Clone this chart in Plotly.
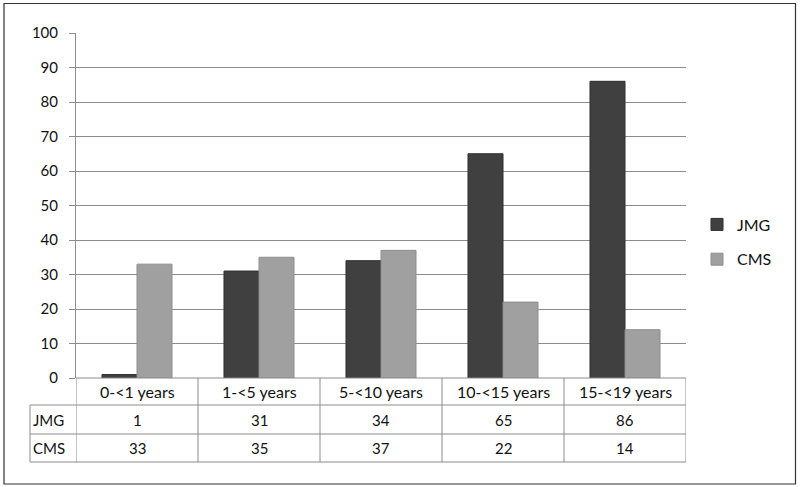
import plotly.graph_objects as go

categories = ["0-<1 years", "1-<5 years", "5-<10 years", "10-<15 years", "15-<19 years"]
jmg = [1, 31, 34, 65, 86]
cms = [33, 35, 37, 22, 14]
series_names = ["JMG", "CMS"]
y_ticks = [0, 10, 20, 30, 40, 50, 60, 70, 80, 90, 100]

W, H = 800, 487
FONT = "Lato"
FS = 15
LINE = "#8c8c8c"
TXT = "#111111"

# plot area in pixels
px_left, px_right, px_top, px_bottom = 76, 686, 33, 378
def px(xp):
    return xp / W
def py(yp):
    return 1 - yp / H

fig = go.Figure()
xs = list(range(len(categories)))
fig.add_trace(go.Bar(x=xs, y=jmg, name=series_names[0],
                     marker=dict(color="#404040", line=dict(width=1, color="#2e2e2e")),
                     legendgroup="a"))
fig.add_trace(go.Bar(x=xs, y=cms, name=series_names[1],
                     marker=dict(color="#a0a0a0", line=dict(width=1, color="#8e8e8e")),
                     legendgroup="b"))

shapes = []
annotations = []
# outer border
shapes.append(dict(type="rect", xref="paper", yref="paper", x0=px(4), x1=px(795.5), y0=py(484), y1=py(3.5),
                   line=dict(color="#333333", width=1.2)))

# table rows (pixel y)
row_cat = (378, 405)
row_jmg = (405, 434)
row_cms = (434, 462)
n = len(categories)
shapes.append(dict(type="line", xref="x", yref="paper", x0=-0.5, x1=n - 0.5, y0=py(row_cat[0]), y1=py(row_cat[0]),
                   line=dict(color=LINE, width=1)))
for yy in (row_jmg[0], row_cms[0], row_cms[1]):
    shapes.append(dict(type="line", xref="paper", yref="paper", x0=px(30), x1=px(px_right), y0=py(yy), y1=py(yy),
                       line=dict(color=LINE, width=1)))
for i in range(n + 1):
    shapes.append(dict(type="line", xref="x", yref="paper", x0=i - 0.5, x1=i - 0.5, y0=py(row_cat[0]), y1=py(row_cms[1]),
                       line=dict(color=LINE, width=1)))
shapes.append(dict(type="line", xref="paper", yref="paper", x0=px(30), x1=px(30), y0=py(row_jmg[0]), y1=py(row_cms[1]),
                   line=dict(color=LINE, width=1)))

def cell(x, xref, y_rng, text, xanchor="center", size=FS):
    annotations.append(dict(x=x, xref=xref, y=py((y_rng[0] + y_rng[1]) / 2), yref="paper", text=text,
                            showarrow=False, xanchor=xanchor, yanchor="middle",
                            font=dict(family=FONT, size=size, color=TXT)))

for i, c in enumerate(categories):
    cell(i, "x", row_cat, c, size=16)
    cell(i, "x", row_jmg, str(jmg[i]))
    cell(i, "x", row_cms, str(cms[i]))
cell(px(31), "paper", row_jmg, series_names[0], "left")
cell(px(31), "paper", row_cms, series_names[1], "left")

fig.update_layout(
    width=W, height=H,
    margin=dict(l=0, r=0, t=0, b=0, autoexpand=False),
    paper_bgcolor="white", plot_bgcolor="white",
    barmode="group", bargap=0.426, bargroupgap=0,
    font=dict(family=FONT, size=FS, color=TXT),
    xaxis=dict(domain=[px(px_left), px(px_right)], range=[-0.5, n - 0.5], showticklabels=False,
               showgrid=False, zeroline=False, showline=False, ticks="", automargin=False),
    yaxis=dict(domain=[py(px_bottom), py(px_top)], range=[0, 100], tickvals=y_ticks,
               showgrid=True, gridcolor=LINE, gridwidth=1, zeroline=False, automargin=False,
               showline=True, linecolor=LINE, linewidth=1, ticks="outside", ticklen=6, tickcolor=LINE,
               tickfont=dict(family=FONT, size=FS, color=TXT), ticklabelstandoff=8),
    legend=dict(x=px(697), y=py(242), xanchor="left", yanchor="middle", traceorder="grouped",
                tracegroupgap=11, font=dict(family=FONT, size=16, color=TXT),
                itemwidth=30, bgcolor="rgba(0,0,0,0)"),
    shapes=shapes, annotations=annotations,
)

fig.write_html("out.html", post_script="document.body.style.margin='0';", config={"displayModeBar": False})
